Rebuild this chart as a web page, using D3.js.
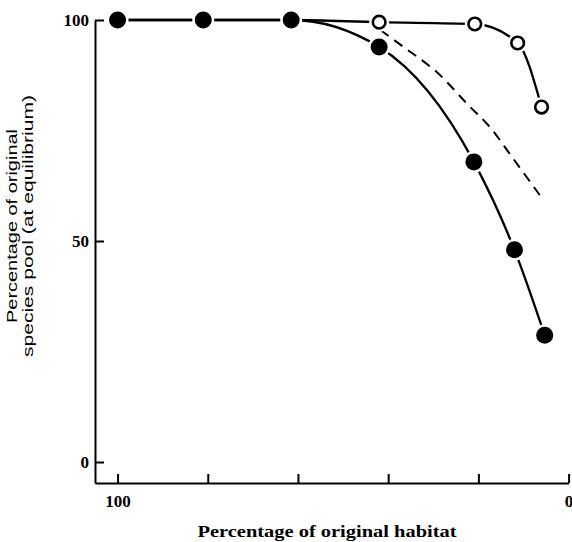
<!DOCTYPE html>
<html>
<head>
<meta charset="utf-8">
<script src="https://cdn.jsdelivr.net/npm/d3@7"></script>
<style>
  body { margin: 0; background: #fff; }
  .tick text { font-family: "Liberation Serif", serif; font-weight: bold; font-size: 17px; fill: #000; }
</style>
</head>
<body>
<div id="chart"></div>
<script>
// habitat remaining (%) and species pool (%)
var filledX = [100, 81, 61.5, 42, 21, 12, 5.3];
var filledY = [100, 100, 100, 93.9, 67.9, 48, 28.7];
var openX = [42, 20.8, 11.3, 6];
var openY = [99.5, 99.1, 94.8, 80.3];
var dashX = [41.7, 36.6, 29, 22, 17.3, 12.9, 6.4];
var dashY = [97.7, 93.9, 88, 80.5, 75.6, 69.5, 60.4];
var xTicks = [100, 80, 60, 40, 20, 0];
var xLabels = {100: "100", 0: "0"};
var yTicks = [0, 50, 100];

var W = 572, H = 542;
var svg = d3.select("#chart").append("svg")
  .attr("width", W)
  .attr("height", H);

var x = d3.scaleLinear().domain([105, 0]).range([95, 568.6]);
var y = d3.scaleLinear().domain([-4.75, 100]).range([483, 20]);

var xAxis = svg.append("g")
  .attr("transform", "translate(0," + y.range()[0] + ")")
  .call(d3.axisBottom(x).tickValues(xTicks).tickSize(-9).tickSizeOuter(0).tickPadding(12)
    .tickFormat(function(d){ return xLabels[d] || ""; }));
var yAxis = svg.append("g")
  .attr("transform", "translate(" + x.range()[0] + ",0)")
  .call(d3.axisLeft(y).tickValues(yTicks).tickSize(-9).tickSizeOuter(0).tickPadding(6));
svg.selectAll(".domain").attr("stroke", "#000").attr("stroke-width", 2);
svg.selectAll(".tick line").attr("stroke", "#000").attr("stroke-width", 2);

function pts(xs, ys){ return xs.map(function(d,i){ return [d, ys[i]]; }); }
var line = d3.line()
  .x(function(d){ return x(d[0]); })
  .y(function(d){ return y(d[1]); })
  .curve(d3.curveMonotoneX);

// open-circle series shares the flat start of the filled one
var openLine = pts(filledX.slice(0,3), filledY.slice(0,3)).concat(pts(openX, openY));

svg.append("path").attr("d", line(pts(dashX, dashY)))
  .attr("fill", "none").attr("stroke", "#000").attr("stroke-width", 2)
  .attr("stroke-dasharray", "10,7");
svg.append("path").attr("d", line(openLine))
  .attr("fill", "none").attr("stroke", "#000").attr("stroke-width", 2.3);
svg.append("path").attr("d", line(pts(filledX, filledY)))
  .attr("fill", "none").attr("stroke", "#000").attr("stroke-width", 2.3);

// white halos make the gaps around markers
svg.selectAll(".halo-f").data(pts(filledX, filledY)).enter().append("circle")
  .attr("cx", function(d){ return x(d[0]); })
  .attr("cy", function(d){ return y(d[1]); })
  .attr("r", 11).attr("fill", "#fff");
svg.selectAll(".halo-o").data(pts(openX, openY)).enter().append("circle")
  .attr("cx", function(d){ return x(d[0]); })
  .attr("cy", function(d){ return y(d[1]); })
  .attr("r", 10).attr("fill", "#fff");

svg.selectAll(".dot").data(pts(filledX, filledY)).enter().append("circle")
  .attr("cx", function(d){ return x(d[0]); })
  .attr("cy", function(d){ return y(d[1]); })
  .attr("r", 8.5).attr("fill", "#000");
svg.selectAll(".ring").data(pts(openX, openY)).enter().append("circle")
  .attr("cx", function(d){ return x(d[0]); })
  .attr("cy", function(d){ return y(d[1]); })
  .attr("r", 6.3).attr("fill", "#fff").attr("stroke", "#000").attr("stroke-width", 2.6);

svg.append("text")
  .attr("x", 327).attr("y", 537)
  .attr("text-anchor", "middle")
  .attr("font-family", "Liberation Serif, serif").attr("font-weight", "bold")
  .attr("font-size", 16).attr("textLength", 259).attr("lengthAdjust", "spacingAndGlyphs")
  .text("Percentage of original habitat");

var yt = svg.append("g").attr("transform", "translate(0,226) rotate(-90)")
  .attr("font-family", "Liberation Sans, sans-serif").attr("font-size", 14)
  .attr("text-anchor", "middle");
yt.append("text").attr("x", 0).attr("y", 17)
  .attr("textLength", 194).attr("lengthAdjust", "spacingAndGlyphs")
  .text("Percentage of original");
yt.append("text").attr("x", 0).attr("y", 33)
  .attr("textLength", 262).attr("lengthAdjust", "spacingAndGlyphs")
  .text("species pool (at equilibrium)");
</script>
</body>
</html>
